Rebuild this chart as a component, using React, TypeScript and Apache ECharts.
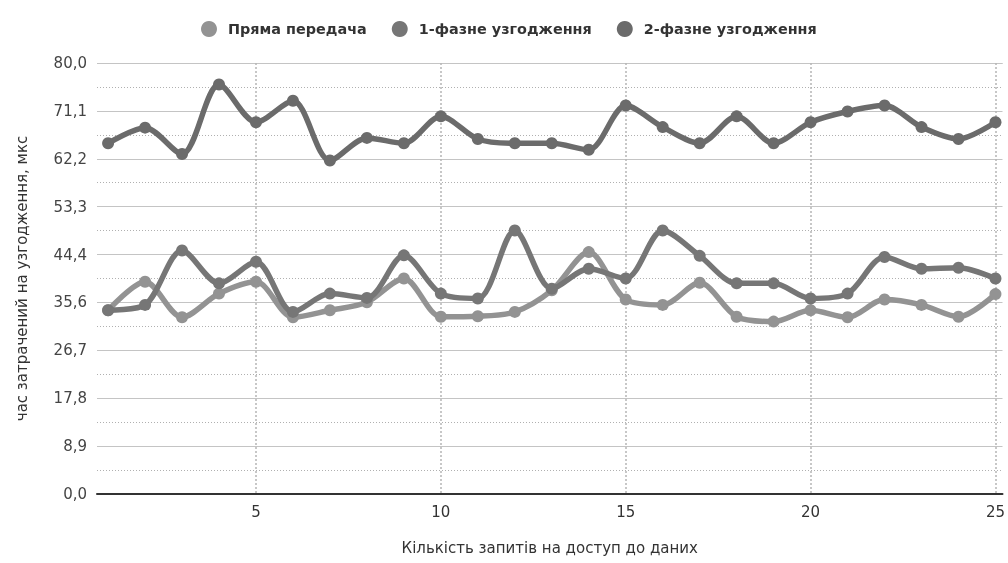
import React, { useEffect, useRef } from "react";
import * as echarts from "echarts";

const xValues = [1, 2, 3, 4, 5, 6, 7, 8, 9, 10, 11, 12, 13, 14, 15, 16, 17, 18, 19, 20, 21, 22, 23, 24, 25];
const seriesNames = ["Пряма передача", "1-фазне узгодження", "2-фазне узгодження"];
const directValues = [34.1, 39.4, 32.8, 37.2, 39.4, 32.8, 34.1, 35.6, 40.0, 32.9, 33.0, 33.8, 37.8, 44.9, 36.1, 35.1, 39.2, 32.9, 32.0, 34.1, 32.8, 36.1, 35.1, 32.9, 37.1];
const phase1Values = [34.1, 35.1, 45.2, 39.1, 43.1, 33.8, 37.2, 36.4, 44.3, 37.2, 36.3, 48.9, 38.1, 41.8, 40.0, 48.9, 44.2, 39.1, 39.1, 36.3, 37.2, 44.0, 41.8, 42.0, 40.0];
const phase2Values = [65.1, 68.0, 63.1, 76.0, 69.0, 73.0, 61.9, 66.1, 65.1, 70.1, 65.9, 65.1, 65.1, 63.9, 72.1, 68.1, 65.1, 70.1, 65.1, 69.0, 71.0, 72.1, 68.1, 65.9, 69.0];
const xTickValues = [5, 10, 15, 20, 25];
const yAxisName = "час затрачений на узгодження, мкс";
const xAxisName = "Кількість запитів на доступ до даних";

const colors = ["#939393", "#767676", "#6b6b6b"];
const FONT = "'DejaVu Sans', 'Liberation Sans', Arial, sans-serif";

export default function App() {
  const ref = useRef<HTMLDivElement>(null);
  useEffect(() => {
    if (!ref.current) return;
    const chart = echarts.init(ref.current, undefined, { renderer: "svg" });
    const allSeries = [directValues, phase1Values, phase2Values];
    chart.setOption({
      animation: false,
      color: colors,
      textStyle: { fontFamily: FONT },
      legend: {
        top: 16,
        left: 196,
        icon: "circle",
        itemWidth: 16,
        itemHeight: 16,
        itemGap: 25,
        textStyle: { fontSize: 14.4, fontWeight: "bold", color: "#333", fontFamily: FONT, padding: [0, 0, 0, 6] },
        data: seriesNames,
      },
      grid: { left: 97, right: 0, top: 63, bottom: 69, containLabel: false },
      xAxis: {
        type: "value",
        min: 0.7,
        max: 25.19,
        name: xAxisName,
        nameLocation: "middle",
        nameGap: 46,
        nameTextStyle: { fontSize: 15, color: "#333", fontFamily: FONT },
        axisLine: { show: true, onZero: false, lineStyle: { color: "#333", width: 2 } },
        axisTick: { show: false, customValues: xTickValues },
        axisLabel: { customValues: xTickValues, fontSize: 15, color: "#333", margin: 10, fontFamily: FONT },
        splitLine: { show: true, lineStyle: { color: "#b5b5b5", type: [2, 2], width: 1.5 } },
      },
      yAxis: {
        type: "value",
        min: 0,
        max: 80,
        interval: 80 / 9,
        name: yAxisName,
        nameLocation: "middle",
        nameGap: 68,
        nameTextStyle: { fontSize: 15, color: "#333", fontFamily: FONT },
        axisLine: { show: false },
        axisTick: { show: false },
        axisLabel: {
          fontSize: 15,
          color: "#444",
          margin: 10,
          fontFamily: FONT,
          formatter: (v: number) => v.toFixed(1).replace(".", ","),
        },
        splitLine: { show: true, lineStyle: { color: "#c4c4c4", width: 1.2 } },
        minorTick: { show: false, splitNumber: 2 },
        minorSplitLine: { show: true, lineStyle: { color: "#b0b0b0", type: [1, 2], width: 1 } },
      },
      series: seriesNames.map((name, i) => ({
        name,
        type: "line",
        smooth: 0.3,
        symbol: "circle",
        symbolSize: 12,
        z: 2 + i,
        lineStyle: { width: 5.5, color: colors[i] },
        itemStyle: { color: colors[i] },
        data: xValues.map((x, j) => [x, allSeries[i][j]]),
      })),
    });
    return () => chart.dispose();
  }, []);
  return <div ref={ref} style={{ position: "fixed", left: 0, top: 0, width: 1008, height: 563 }} />;
}
